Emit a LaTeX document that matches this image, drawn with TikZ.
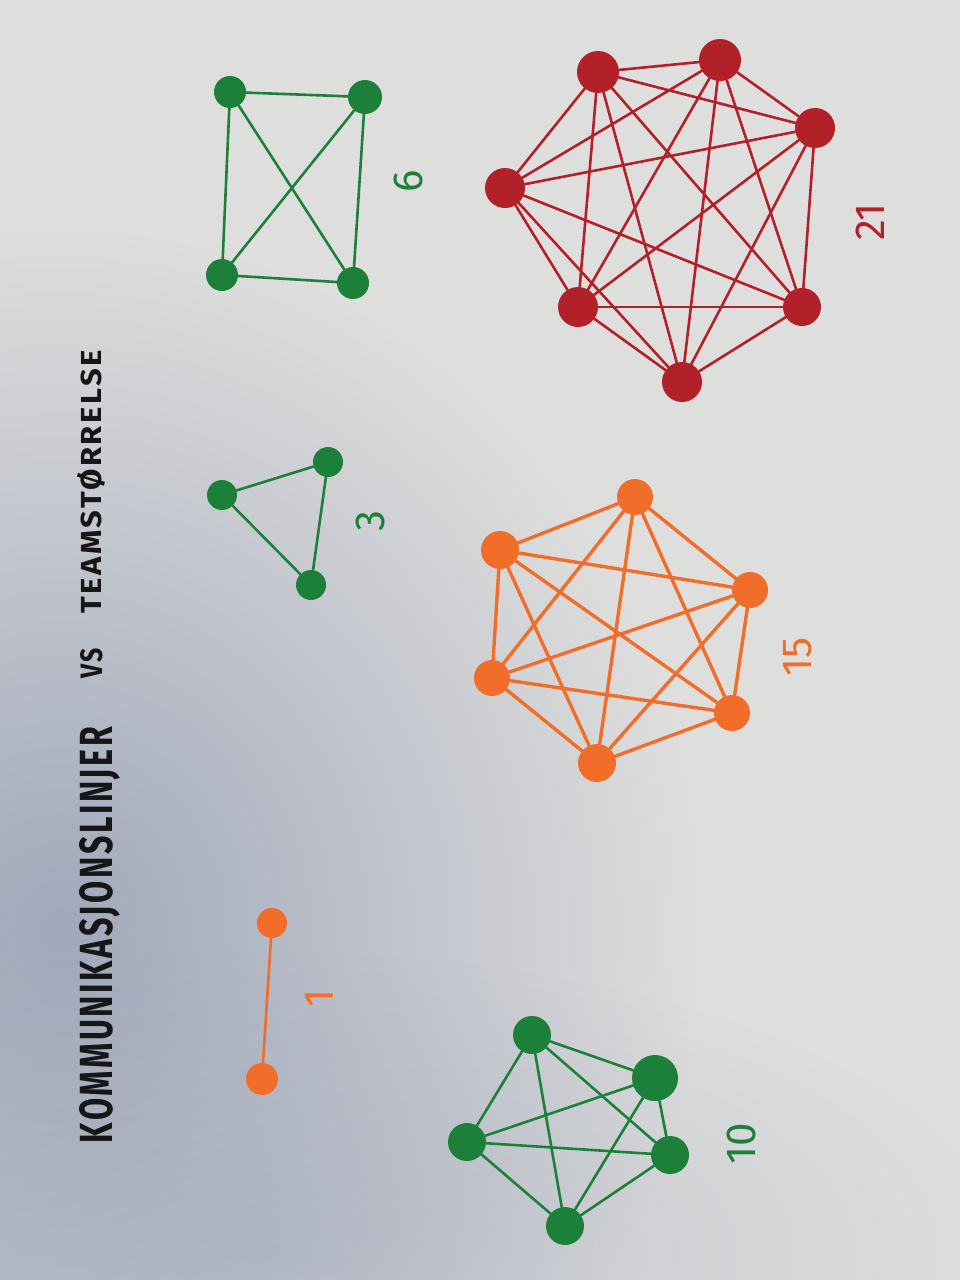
\documentclass[tikz,border=0pt]{standalone}
\usepackage{fontspec}
\setmainfont{Fira Sans}
\usetikzlibrary{fadings}
\definecolor{mkgreen}{RGB}{28,128,58}
\definecolor{mkorange}{RGB}{240,110,42}
\definecolor{mkred}{RGB}{178,32,42}
\definecolor{ink}{RGB}{22,22,24}
\definecolor{paper}{RGB}{222,222,221}
\definecolor{shadowc}{RGB}{140,150,175}
\tikzfading[name=softblob, inner color=transparent!0, outer color=transparent!100]
\begin{document}
\begin{tikzpicture}[x=1pt,y=-1pt,
  dot/.style={circle, inner sep=0pt, minimum size=#1},
  gdot/.style={dot=#1, fill=mkgreen},
  odot/.style={dot=#1, fill=mkorange},
  rdot/.style={dot=#1, fill=mkred},
  gline/.style={draw=mkgreen, line width=2.6pt, line cap=round},
  oline/.style={draw=mkorange, line width=3.4pt, line cap=round},
  rline/.style={draw=mkred, line width=2.6pt, line cap=round},
  numlabel/.style={rotate=90, font=\fontsize{42}{42}\selectfont, inner sep=0pt},
  title/.style={rotate=90, inner sep=0pt, text=ink}]
\useasboundingbox (0,0) rectangle (960,1280);
\fill[paper] (0,0) rectangle (960,1280);
\fill[shadowc, opacity=0.75, path fading=softblob] (60,930) ellipse [x radius=640, y radius=700];
\fill[shadowc, opacity=0.35, path fading=softblob] (250,1250) ellipse [x radius=750, y radius=300];

% title
\node[title] (t1) at (100,935) {\resizebox{416pt}{33pt}{\bfseries\addfontfeatures{LetterSpace=8}KOMMUNIKASJONSLINJER}};
\node[title] (t2) at (92,663) {\resizebox{30pt}{22pt}{\bfseries\addfontfeatures{LetterSpace=8}VS}};
\node[title] (t3) at (91,482) {\resizebox{263pt}{24pt}{\bfseries\addfontfeatures{LetterSpace=8}TEAMSTØRRELSE}};

% K2
\node[odot=30] (a1) at (272,923) {};
\node[odot=32] (a2) at (262,1079) {};
\draw[oline, line width=2.6pt] (a1) -- (a2);
\node[numlabel, text=mkorange] (n1) at (319,998) {1};

% K3
\node[gdot=30] (b1) at (222,495) {};
\node[gdot=30] (b2) at (328,462) {};
\node[gdot=30] (b3) at (311,585) {};
\foreach \i in {1,...,3}{\foreach \j in {1,...,3}{\ifnum\i<\j \draw[gline] (b\i) -- (b\j);\fi}}
\node[numlabel, text=mkgreen] (n3) at (370,521) {3};

% K4
\node[gdot=32] (c1) at (230,92) {};
\node[gdot=34] (c2) at (365,97) {};
\node[gdot=32] (c3) at (353,283) {};
\node[gdot=32] (c4) at (222,275) {};
\foreach \i in {1,...,4}{\foreach \j in {1,...,4}{\ifnum\i<\j \draw[gline] (c\i) -- (c\j);\fi}}
\node[numlabel, text=mkgreen] (n6) at (408,181) {6};

% K5
\node[gdot=38] (d1) at (532,1035) {};
\node[gdot=46] (d2) at (655,1078) {};
\node[gdot=38] (d3) at (670,1155) {};
\node[gdot=38] (d4) at (565,1226) {};
\node[gdot=38] (d5) at (467,1142) {};
\foreach \i in {1,...,5}{\foreach \j in {1,...,5}{\ifnum\i<\j \draw[gline] (d\i) -- (d\j);\fi}}
\node[numlabel, text=mkgreen] (n10) at (741,1144) {10};

% K6
\node[odot=36] (e1) at (635,497) {};
\node[odot=36] (e2) at (750,590) {};
\node[odot=36] (e3) at (732,713) {};
\node[odot=38] (e4) at (597,763) {};
\node[odot=36] (e5) at (492,678) {};
\node[odot=38] (e6) at (500,550) {};
\foreach \i in {1,...,6}{\foreach \j in {1,...,6}{\ifnum\i<\j \draw[oline] (e\i) -- (e\j);\fi}}
\node[numlabel, text=mkorange] (n15) at (798,657) {15};

% K7
\node[rdot=42] (f1) at (598,72) {};
\node[rdot=42] (f2) at (720,60) {};
\node[rdot=40] (f3) at (815,128) {};
\node[rdot=38] (f4) at (802,307) {};
\node[rdot=40] (f5) at (682,382) {};
\node[rdot=40] (f6) at (578,307) {};
\node[rdot=40] (f7) at (505,188) {};
\foreach \i in {1,...,7}{\foreach \j in {1,...,7}{\ifnum\i<\j \draw[rline] (f\i) -- (f\j);\fi}}
\node[numlabel, text=mkred] (n21) at (870,222) {21};
\end{tikzpicture}
\end{document}
